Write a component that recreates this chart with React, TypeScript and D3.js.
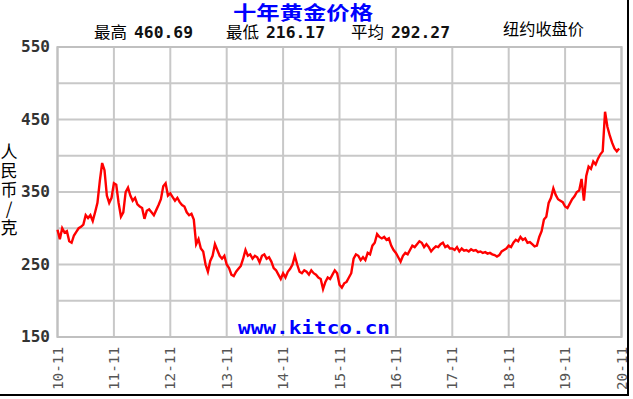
import React from "react";
import * as d3 from "d3";

const yearLabels = ["10-11", "11-11", "12-11", "13-11", "14-11", "15-11", "16-11", "17-11", "18-11", "19-11", "20-11"];
const yTickLabels = [150, 250, 350, 450, 550];
const yGrid = [150, 200, 250, 300, 350, 400, 450, 500, 550];
const statLabels = ["最高", "最低", "平均"];
const statValues = ["460.69", "216.17", "292.27"];

// half-monthly closing prices (RMB/g), Nov 2010 -> Nov 2020
const prices2010 = [298, 285, 300, 294, 296, 282, 280, 290, 295, 300, 302, 305, 318, 314, 318, 310, 322, 335, 365, 390, 380, 345, 335, 342];
const prices2011 = [362, 360, 335, 316, 322, 350, 356, 345, 338, 342, 333, 330, 328, 313, 324, 326, 322, 318, 325, 332, 340, 358, 362, 345];
const prices2012 = [348, 343, 338, 342, 336, 332, 330, 322, 318, 320, 312, 278, 285, 272, 268, 250, 240, 255, 262, 278, 270, 262, 258, 262];
const prices2013 = [250, 245, 236, 234, 240, 244, 248, 258, 270, 262, 264, 258, 262, 260, 253, 262, 264, 258, 260, 254, 245, 242, 236, 230];
const prices2014 = [238, 232, 240, 244, 250, 262, 250, 240, 238, 242, 240, 236, 242, 238, 236, 232, 230, 216.17, 226, 232, 230, 236, 242, 238];
const prices2015 = [222, 218, 224, 226, 232, 238, 258, 264, 262, 256, 260, 256, 266, 264, 276, 280, 292, 288, 286, 288, 284, 286, 276, 270];
const prices2016 = [266, 260, 254, 262, 266, 264, 270, 276, 274, 278, 282, 280, 274, 278, 274, 268, 272, 275, 274, 278, 280, 274, 276, 272];
const prices2017 = [272, 270, 274, 268, 272, 269, 270, 268, 271, 269, 270, 267, 268, 266, 267, 265, 266, 264, 263, 261, 263, 268, 270, 272];
const prices2018 = [276, 274, 280, 284, 282, 288, 284, 286, 280, 281, 278, 275, 276, 288, 296, 312, 316, 335, 342, 355, 346, 340, 338, 336];
const prices2019 = [330, 328, 334, 340, 344, 350, 352, 368, 338, 372, 385, 382, 392, 388, 396, 402, 406, 460.69, 440, 428, 418, 410, 406, 410];

const prices = [
  ...prices2010, ...prices2011, ...prices2012, ...prices2013, ...prices2014,
  ...prices2015, ...prices2016, ...prices2017, ...prices2018, ...prices2019,
];

const W = 633;
const H = 399;
const left = 57.5;
const right = 621.5;
const top = 47;
const bottom = 337;

export default function App() {
  const x = d3.scaleLinear().domain([0, 240]).range([left, right]);
  const y = d3.scaleLinear().domain([150, 550]).range([bottom, top]);
  const line = d3
    .line<number>()
    .x((_, i) => x(i))
    .y((d) => y(d));
  const yearPos = yearLabels.map((_, i) => x(i * 24));
  const mono = "'DejaVu Sans Mono', 'Liberation Mono', monospace";
  const cjk = "'Noto Sans CJK SC', sans-serif";
  const statX = [94, 226, 351];

  return (
    <svg width={W} height={H} style={{ position: "absolute", left: 0, top: 0, background: "#fff" }}>
      <rect x={0} y={0} width={W} height={H} fill="#fff" />
      {/* title */}
      <text x={233} y={20} fontFamily={cjk} fontWeight="bold" fontSize={19} fill="#0000ff" textLength={140} lengthAdjust="spacingAndGlyphs">
        十年黄金价格
      </text>
      {statLabels.map((s, i) => (
        <g key={s}>
          <text x={statX[i]} y={38} fontFamily={cjk} fontSize={16} fill="#000" textLength={33} lengthAdjust="spacingAndGlyphs">
            {s}
          </text>
          <text x={statX[i] + 40} y={38} fontFamily={mono} fontWeight="bold" fontSize={16} fill="#111" textLength={59} lengthAdjust="spacingAndGlyphs">
            {statValues[i]}
          </text>
        </g>
      ))}
      <text x={503} y={35} fontFamily={cjk} fontSize={16} fill="#000" textLength={81} lengthAdjust="spacingAndGlyphs">
        纽约收盘价
      </text>

      {/* grid */}
      {yGrid.map((v) => (
        <line key={v} x1={left} x2={right} y1={y(v)} y2={y(v)} stroke="#c8c8c8" strokeWidth={2} />
      ))}
      {yearPos.map((p, i) => (
        <line key={i} x1={p} x2={p} y1={top} y2={bottom} stroke="#c8c8c8" strokeWidth={2} />
      ))}
      <rect x={left} y={top} width={right - left} height={bottom - top} fill="none" stroke="#c0c0c0" strokeWidth={2} />

      {/* y ticks */}
      {yTickLabels.map((v) => (
        <text key={v} x={50} y={y(v)} dy="0.36em" textAnchor="end" fontFamily={mono} fontWeight="bold" fontSize={15} fill="#333" textLength={29} lengthAdjust="spacingAndGlyphs">
          {v}
        </text>
      ))}
      <text
        x={9}
        y={143}
        fontFamily={cjk}
        fontSize={17}
        fill="#000"
        letterSpacing={2}
        style={{ writingMode: "vertical-rl", textOrientation: "upright" } as React.CSSProperties}
      >
        人民币/克
      </text>

      {/* x ticks */}
      {yearLabels.map((l, i) => (
        <text
          key={l}
          transform={`translate(${yearPos[i]},347) rotate(-90)`}
          dy="0.36em"
          textAnchor="end"
          fontFamily={mono}
          fontSize={14}
          fill="#555"
          textLength={43}
          lengthAdjust="spacingAndGlyphs"
        >
          {l}
        </text>
      ))}

      {/* watermark */}
      <text x={238} y={334} fontFamily={mono} fontWeight="bold" fontSize={17} fill="#0000ff" textLength={152} lengthAdjust="spacingAndGlyphs">
        www.kitco.cn
      </text>

      {/* price line */}
      <path d={line(prices) ?? ""} fill="none" stroke="#ff0000" strokeWidth={2.4} strokeLinejoin="miter" />

      {/* frame shadow */}
      <line x1={628} x2={628} y1={0} y2={396} stroke="#000" strokeWidth={2} />
      <line x1={0} x2={629} y1={395} y2={395} stroke="#000" strokeWidth={2} />
    </svg>
  );
}
